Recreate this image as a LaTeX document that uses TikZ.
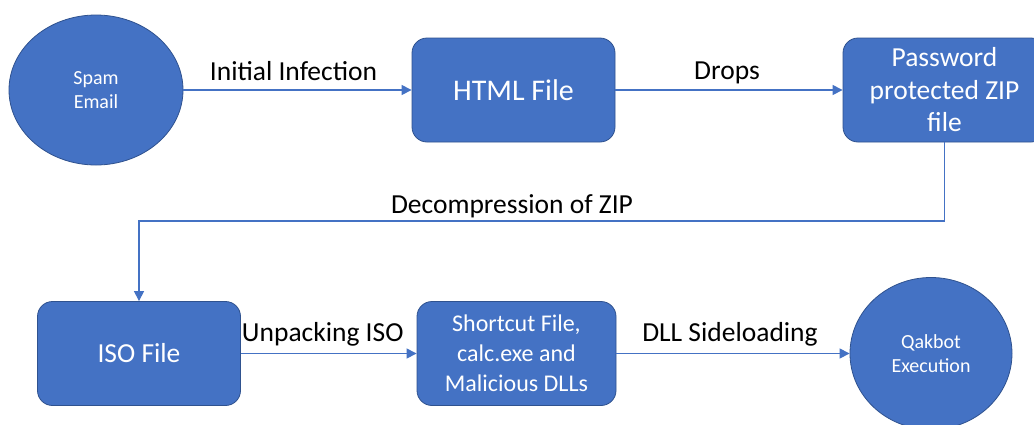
\documentclass[tikz,border=0pt]{standalone}
\usepackage{fontspec}
\setmainfont{Carlito}
\usetikzlibrary{shapes.geometric,arrows.meta}
\definecolor{officeblue}{HTML}{4472C4}
\definecolor{edgeblue}{HTML}{2F528F}
\tikzset{
  flowbox/.style={draw=edgeblue, line width=0.8pt, fill=officeblue, rounded corners=15pt,
    minimum width=203pt, minimum height=104pt, inner sep=0pt, text=white, align=center},
  flowoval/.style={ellipse, draw=edgeblue, line width=0.8pt, fill=officeblue,
    inner sep=0pt, text=white, align=center,
    font=\fontsize{20}{24}\selectfont},
  flowlink/.style={draw=officeblue, line width=1.1pt, -{Triangle[length=10pt,width=10pt]}},
  linklabel/.style={font=\fontsize{27.5}{33}\selectfont, text=black, anchor=base, inner sep=0pt}
}
\begin{document}
\begin{tikzpicture}[x=1pt, y=-1pt]
  \fill[white] (0,0) rectangle (1034,424);
  \useasboundingbox (0,0) rectangle (1034,424);

  % top row
  \node[flowoval, minimum width=174pt, minimum height=150pt] (spam) at (96,90) {Spam\\Email};
  \node[flowbox, font=\fontsize{30}{36}\selectfont] (html) at (513.5,90) {HTML File};
  \node[flowbox, font=\fontsize{27.5}{32.5}\selectfont] (zip) at (944.5,90)
    {Password\\protected ZIP\\file};

  % bottom row
  \node[flowbox, font=\fontsize{27.5}{33}\selectfont] (iso) at (139,353.5) {ISO File};
  \node[flowbox, minimum width=199pt, font=\fontsize{24}{30}\selectfont] (lnk) at (516.5,353.5)
    {Shortcut File,\\calc.exe and\\Malicious DLLs};
  \node[flowoval, minimum width=162pt, minimum height=152pt] (qak) at (931,353.5) {Qakbot\\Execution};

  % connectors
  \draw[flowlink] (spam.east) -- node[linklabel, yshift=10pt, xshift=-4pt] (l1) {Initial Infection} (html.west);
  \draw[flowlink] (html.east) -- node[linklabel, yshift=11pt, xshift=-2pt] (l2) {Drops} (zip.west);
  \coordinate (jog) at (512,221);
  \draw[flowlink] (zip.south) |- (jog) -| (iso.north);
  \node[linklabel, yshift=8pt] (l3) at (jog) {Decompression of ZIP};
  \draw[flowlink] (iso.east) -- node[linklabel, yshift=12pt, xshift=-6pt] (l4) {Unpacking ISO} (lnk.west);
  \draw[flowlink] (lnk.east) -- node[linklabel, yshift=12pt, xshift=-3pt] (l5) {DLL Sideloading} (qak.west);
\end{tikzpicture}
\end{document}
